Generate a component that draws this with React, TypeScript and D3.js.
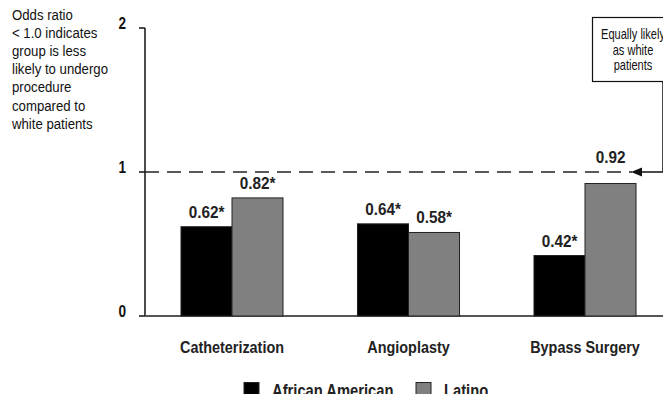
import React from 'react';
import * as d3 from 'd3';

const categories = ['Catheterization', 'Angioplasty', 'Bypass Surgery'];
const groups = ['African American', 'Latino'];
const africanAmerican = [0.62, 0.64, 0.42];
const latino = [0.82, 0.58, 0.92];
const valueLabels = [
  ['0.62*', '0.82*'],
  ['0.64*', '0.58*'],
  ['0.42*', '0.92'],
];
const yTicks = [0, 1, 2];
const noteLines = [
  'Odds ratio',
  '< 1.0 indicates',
  'group is less',
  'likely to undergo',
  'procedure',
  'compared to',
  'white patients',
];
const boxLines = ['Equally likely', 'as white', 'patients'];

const colors = ['#000000', '#808080'];
const font = '"Liberation Sans", Arial, sans-serif';

// horizontally squeezed text to mimic a narrow face
const NText = ({ x, y, children, sx = 0.8, ...rest }: any) => (
  <text transform={`translate(${x},${y}) scale(${sx},1)`} {...rest}>
    {children}
  </text>
);

export default function App() {
  const width = 671;
  const height = 402;
  const left = 145;
  const right = 670;

  const y = d3.scaleLinear().domain([0, 2]).range([316, 28]);
  const x0 = d3
    .scaleBand()
    .domain(categories)
    .range([143.75, 673.25])
    .paddingInner(0.422)
    .paddingOuter(0.211);
  const x1 = d3.scaleBand().domain(groups).range([0, x0.bandwidth()]);

  const series = [africanAmerican, latino];

  return (
    <div style={{ margin: -8 }}>
      <svg width={width} height={height} style={{ display: 'block', background: '#fff' }} fontFamily={font}>
        {/* note text */}
        {noteLines.map((l, i) => (
          <NText key={i} x={12} y={19.5 + i * 18.2} fontSize={15} fill="#111" sx={0.88}>
            {l}
          </NText>
        ))}

        {/* y axis */}
        <line x1={left} x2={left} y1={y(2)} y2={y(0)} stroke="#111" strokeWidth={1.5} />
        {yTicks.map((t) => (
          <g key={t}>
            <line x1={left - 6} x2={left} y1={y(t)} y2={y(t)} stroke="#111" strokeWidth={1.5} />
            <NText x={left - 19} y={y(t) + 1} fontSize={16} fontWeight="bold" textAnchor="end" fill="#111" sx={0.85}>
              {t}
            </NText>
          </g>
        ))}
        {/* x baseline */}
        <line x1={left} x2={right} y1={y(0)} y2={y(0)} stroke="#555" strokeWidth={2} />

        {/* bars */}
        {categories.map((c, ci) => (
          <g key={c} transform={`translate(${x0(c)},0)`}>
            {groups.map((g, gi) => {
              const v = series[gi][ci];
              const ly = y(v) - 20 < y(1) ? y(1) - 9 : y(v) - 9;
              return (
                <g key={g}>
                  <rect
                    x={x1(g)}
                    y={y(v)}
                    width={x1.bandwidth()}
                    height={y(0) - y(v)}
                    fill={colors[gi]}
                    stroke="#222"
                    strokeWidth={1}
                  />
                  <NText
                    x={(x1(g) as number) + x1.bandwidth() / 2}
                    y={ly}
                    fontSize={17}
                    fontWeight="bold"
                    textAnchor="middle"
                    fill="#222"
                    sx={0.9}
                  >
                    {valueLabels[ci][gi]}
                  </NText>
                </g>
              );
            })}
            <NText
              x={x0.bandwidth() / 2}
              y={353}
              fontSize={16}
              fontWeight="bold"
              textAnchor="middle"
              fill="#222"
              sx={0.9}
            >
              {c}
            </NText>
          </g>
        ))}

        {/* reference dashed line */}
        <line x1={left} x2={632} y1={y(1)} y2={y(1)} stroke="#222" strokeWidth={1.3} strokeDasharray="14,8" />
        <path d={`M663,81 V${y(1)} H640`} fill="none" stroke="#111" strokeWidth={1.5} />
        <path d={`M631,${y(1)} L642,${y(1) - 4.5} L642,${y(1) + 4.5} Z`} fill="#111" />

        {/* annotation box */}
        <rect x={592.5} y={17.5} width={78} height={64} fill="#fff" stroke="#111" strokeWidth={1.2} />
        {boxLines.map((l, i) => (
          <NText key={i} x={633} y={39 + i * 15.5} fontSize={14} textAnchor="middle" fill="#111" sx={0.79}>
            {l}
          </NText>
        ))}

        {/* legend */}
        {groups.map((g, i) => {
          const lx = i === 0 ? 244 : 416;
          return (
            <g key={g}>
              <rect x={lx} y={382.5} width={15} height={15} fill={colors[i]} stroke="#222" strokeWidth={1} />
              <NText x={lx + 28} y={397} fontSize={18} fontWeight="bold" fill="#222" sx={0.82}>
                {g}
              </NText>
            </g>
          );
        })}
      </svg>
    </div>
  );
}
